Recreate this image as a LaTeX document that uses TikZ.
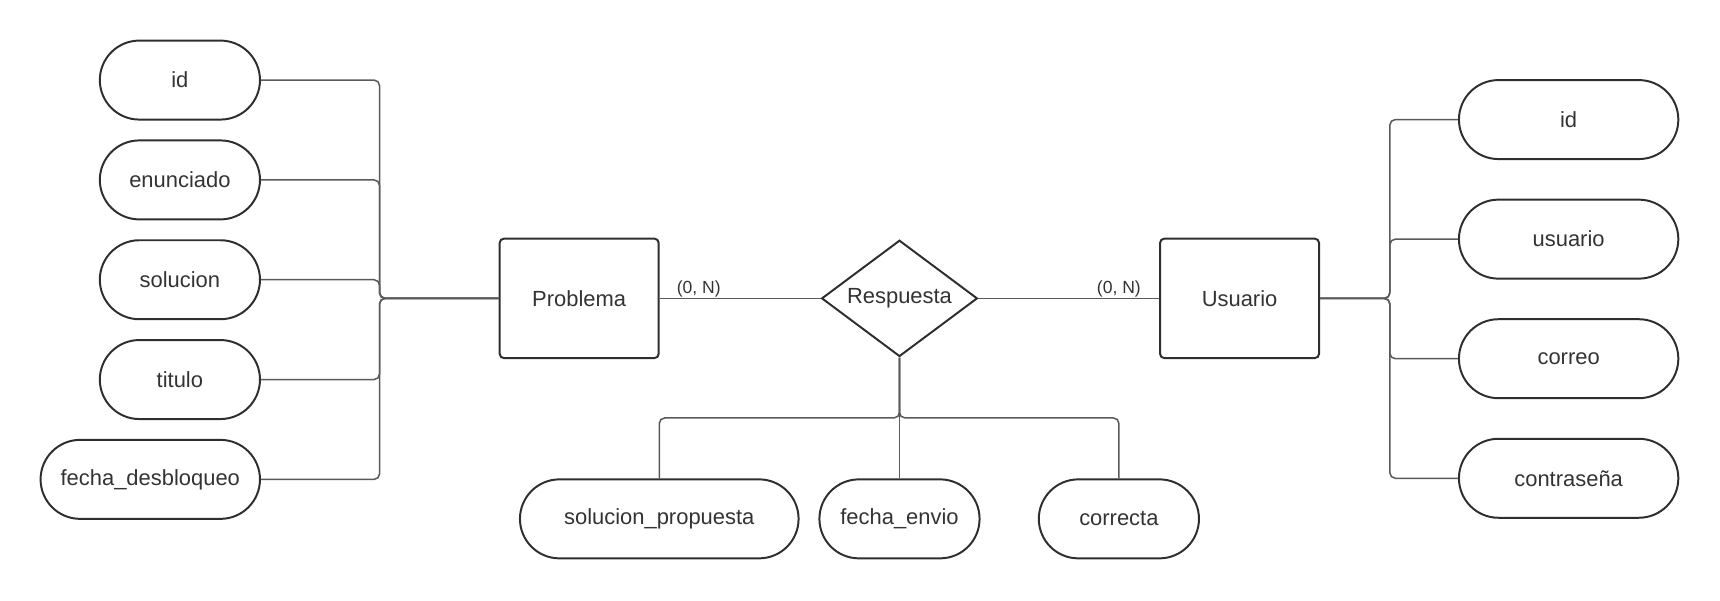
\documentclass[tikz,border=0pt]{standalone}
\usepackage{fontspec}
\setmainfont{Liberation Sans}
\usetikzlibrary{shapes.misc,shapes.geometric}
\definecolor{edgegray}{HTML}{5A5A5A}
\definecolor{shapeline}{HTML}{2E2E2E}
\definecolor{textgray}{HTML}{333333}
\begin{document}
\begin{tikzpicture}[x=0.5pt,y=-0.5pt]

    \tikzset{
      attr/.style={
        draw=shapeline,
        line width=0.9pt,
        rounded rectangle,
        minimum height=36pt,
        minimum width=73pt,
        inner sep=0pt,
        text=textgray,
        font=\fontsize{10}{12}\selectfont,
      },
      entity/.style={
        draw=shapeline,
        line width=0.9pt,
        rounded corners=2pt,
        minimum width=72.5pt,
        minimum height=54.5pt,
        text=textgray,
        font=\fontsize{10}{12}\selectfont,
      },
      relation/.style={
        draw=shapeline,
        line width=0.9pt,
        diamond,
        aspect=1.4,
        inner sep=0pt,
        minimum width=71pt,
        minimum height=53pt,
        text=textgray,
        font=\fontsize{10}{12}\selectfont,
      },
      card/.style={
        text=textgray,
        font=\fontsize{8}{10}\selectfont,
        inner sep=0pt,
      },
      conn/.style={
        draw=edgegray,
        line width=0.7pt,
        rounded corners=2.5pt,
      },
    }
    \useasboundingbox (0,0) rectangle (1568,547);

	% entidades y relacion
	\node[entity] (problema) at (528,272) {Problema};
	\node[relation] (respuesta) at (820,272) {Respuesta};
	\node[entity] (usuario) at (1130,272) {Usuario};
	\node[card] (cardP) at (637,263) {(0, N)};
	\node[card] (cardU) at (1020,263) {(0, N)};

	% atributos de Problema
	\node[attr] (pid) at (164,73) {id};
	\node[attr] (penun) at (164,164) {enunciado};
	\node[attr] (psol) at (164,255) {solucion};
	\node[attr] (ptit) at (164,346) {titulo};
	\node[attr,minimum width=100pt] (pfecha) at (137,437) {fecha\_desbloqueo};

	% atributos de Usuario
	\node[attr,minimum width=100pt] (uid) at (1430,109) {id};
	\node[attr,minimum width=100pt] (uusr) at (1430,218) {usuario};
	\node[attr,minimum width=100pt] (ucorreo) at (1430,327) {correo};
	\node[attr,minimum width=100pt] (upass) at (1430,436) {contraseña};

	% atributos de Respuesta
	\node[attr,minimum width=127pt] (rsolprop) at (601,473) {solucion\_propuesta};
	\node[attr] (rfecha) at (820,473) {fecha\_envio};
	\node[attr] (rcorr) at (1020,473) {correcta};

	\coordinate (pbus) at (346,272);
	\coordinate (ubus) at (1267,272);
	\coordinate (rbus) at (820,381);

	\draw[conn] (problema.east) -- (respuesta.west);
	\draw[conn] (respuesta.east) -- (usuario.west);

	\foreach \a in {pid,penun,psol,ptit,pfecha}
	  \draw[conn] (\a.east) -| (pbus) -- (problema.west);
	\foreach \a in {uid,uusr,ucorreo,upass}
	  \draw[conn] (usuario.east) -- (ubus) |- (\a.west);

	\draw[conn] (respuesta.south) -- (rbus) -| (rsolprop.north);
	\draw[conn] (respuesta.south) -- (rbus) -| (rcorr.north);
	\draw[conn] (respuesta.south) -- (rfecha.north);

\end{tikzpicture}
\end{document}
